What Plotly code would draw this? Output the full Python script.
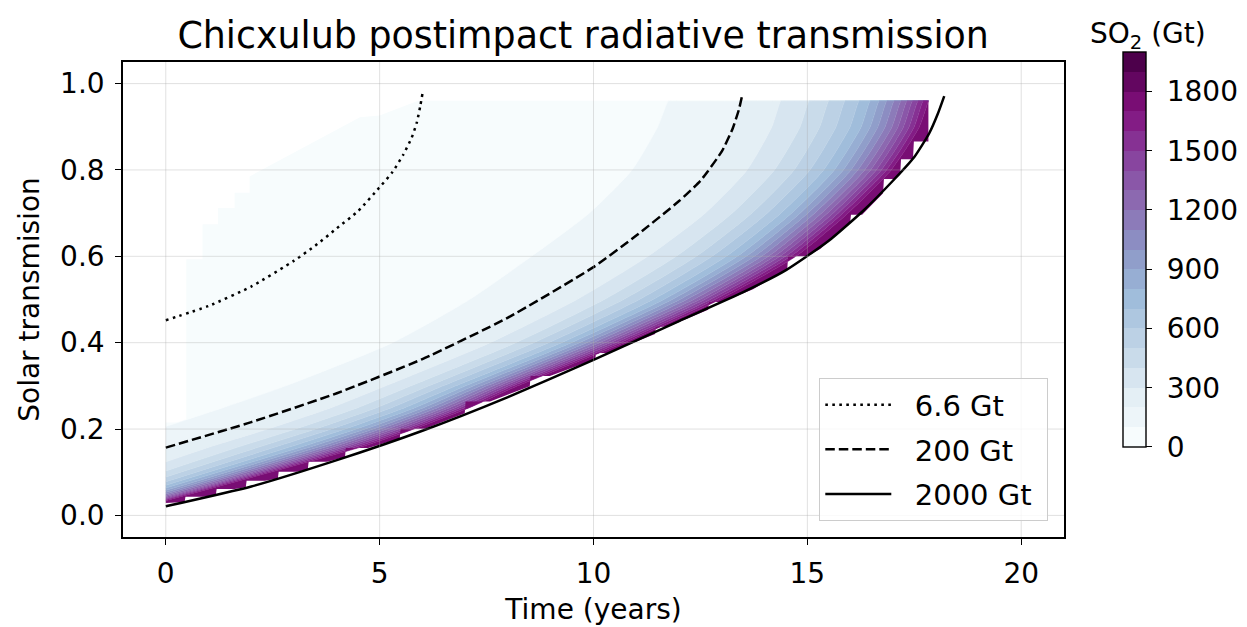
import plotly.graph_objects as go

# ---------------- data ----------------
TIME_TICKS = [0, 5, 10, 15, 20]
TRANS_TICKS = [0.0, 0.2, 0.4, 0.6, 0.8, 1.0]
CBAR_TICKS = [0, 300, 600, 900, 1200, 1500, 1800]
CBAR_MAX = 2000
BAND_STEP = 100

# labelled SO2 curves (time in years, solar transmission)
LINE_66_t = [0, 1, 2, 3, 3.5, 4, 4.5, 5, 5.3, 5.55, 5.75, 5.87, 5.95, 6.0]
LINE_66_T = [0.452, 0.485, 0.53, 0.59, 0.625, 0.665, 0.705, 0.76, 0.795, 0.835, 0.875, 0.91, 0.948, 0.976]
LINE_200_t = [0, 2, 4, 6, 8, 10, 11, 12, 12.5, 13, 13.25, 13.4, 13.47]
LINE_200_T = [0.157, 0.216, 0.283, 0.362, 0.458, 0.575, 0.648, 0.728, 0.775, 0.843, 0.895, 0.94, 0.97]
LINE_2000_t = [0, 2, 4, 6, 8, 10, 12, 13.5, 14.5, 15.5, 16.3, 17, 17.5, 17.85, 18.05, 18.2]
LINE_2000_T = [0.021, 0.067, 0.128, 0.196, 0.274, 0.36, 0.45, 0.517, 0.568, 0.636, 0.705, 0.775, 0.83, 0.885, 0.93, 0.971]
LINE_NAMES = ['6.6 Gt', '200 Gt', '2000 Gt']

# filled SO2 field: outer boundary of the gridded data
CAP_T = 0.96
RIGHT_t = 17.83
TOP_t = [0, 0.48, 0.48, 0.86, 0.86, 1.22, 1.22, 1.61, 1.61, 1.96, 1.96, 4.54, 5.0, 5.9, 17.83]
TOP_T = [0.215, 0.215, 0.593, 0.593, 0.674, 0.674, 0.712, 0.712, 0.747, 0.747, 0.785, 0.922, 0.926, 0.96, 0.96]
EDGE_t = [0, 0.44, 0.46, 0.87, 1.17, 1.19, 1.61, 1.87, 1.89, 2.32, 2.62, 2.64, 3.06, 3.32, 3.34, 3.77,
          4.19, 4.21, 4.73, 5.47, 5.49, 6.06, 6.99, 7.01, 7.58, 8.51, 8.53, 8.98, 10.04, 10.06, 10.34,
          11.44, 11.46, 11.74, 12.68, 12.70, 13.01, 13.73, 14.53, 14.55, 14.99, 15.3, 16.0, 16.02, 16.28,
          16.77, 16.79, 17.05, 17.17, 17.19, 17.45, 17.47, 17.49, 17.83, 17.83]
EDGE_T = [0.029, 0.031, 0.0435, 0.0435, 0.047, 0.061, 0.061, 0.065, 0.080, 0.080, 0.0855, 0.101, 0.101,
          0.1066, 0.1245, 0.1245, 0.1354, 0.156, 0.156, 0.178, 0.2006, 0.2006, 0.2363, 0.264, 0.264,
          0.2991, 0.323, 0.323, 0.3616, 0.376, 0.376, 0.4202, 0.437, 0.437, 0.4763, 0.494, 0.494, 0.524,
          0.5704, 0.60, 0.60, 0.617, 0.6787, 0.696, 0.696, 0.7463, 0.779, 0.779, 0.7895, 0.825, 0.825,
          0.827, 0.866, 0.866, 0.96]

# contour levels of the filled field (Gt): transmission at t=0 and
# time (years) at which each level reaches the transmissions in LEVEL_T_GRID
LEVEL_T_GRID = [0.16, 0.2, 0.25, 0.3, 0.4, 0.5, 0.6, 0.7, 0.8, 0.9, 0.96]
LEVELS = [100, 200, 300, 400, 500, 600, 700, 800, 900, 1000, 1100, 1200, 1300, 1400, 1500, 1600, 1700]
LEVEL_T0 = [0.206, 0.157, 0.124, 0.103, 0.089, 0.078, 0.070, 0.0635, 0.058, 0.0535, 0.0495, 0.046,
            0.043, 0.0405, 0.038, 0.036, 0.034]
LEVEL_TIMES = [
    [None, None, 1.35, 2.8, 5.3, 7.1, 8.55, 9.9, 10.9, 11.5, 11.75],
    [0.1, 1.46, 3.0, 4.43, 6.79, 8.72, 10.34, 11.65, 12.68, 13.27, 13.44],
    [1.07, 2.38, 3.88, 5.14, 7.58, 9.61, 11.27, 12.61, 13.59, 14.17, 14.38],
    [1.74, 3.03, 4.50, 5.73, 8.18, 10.25, 11.93, 13.24, 14.23, 14.83, 15.04],
    [2.23, 3.50, 4.94, 6.15, 8.60, 10.70, 12.40, 13.70, 14.69, 15.29, 15.50],
    [2.61, 3.87, 5.29, 6.48, 8.95, 11.07, 12.77, 14.06, 15.06, 15.67, 15.88],
    [2.95, 4.19, 5.60, 6.78, 9.25, 11.39, 13.10, 14.38, 15.38, 16.00, 16.21],
    [3.22, 4.45, 5.84, 7.01, 9.48, 11.64, 13.36, 14.63, 15.63, 16.26, 16.47],
    [3.43, 4.66, 6.04, 7.20, 9.67, 11.84, 13.57, 14.83, 15.84, 16.47, 16.68],
    [3.63, 4.85, 6.21, 7.37, 9.84, 12.02, 13.76, 15.01, 16.02, 16.65, 16.86],
    [3.80, 5.01, 6.37, 7.51, 9.99, 12.18, 13.93, 15.17, 16.18, 16.82, 17.03],
    [3.96, 5.17, 6.52, 7.66, 10.14, 12.34, 14.09, 15.33, 16.34, 16.98, 17.19],
    [4.11, 5.31, 6.65, 7.79, 10.27, 12.48, 14.23, 15.47, 16.48, 17.12, 17.33],
    [4.24, 5.44, 6.78, 7.90, 10.39, 12.60, 14.36, 15.60, 16.61, 17.25, 17.46],
    [4.37, 5.57, 6.89, 8.02, 10.51, 12.73, 14.49, 15.72, 16.73, 17.38, 17.59],
    [4.50, 5.68, 7.00, 8.12, 10.62, 12.84, 14.61, 15.83, 16.85, 17.50, 17.71],
    [4.62, 5.80, 7.11, 8.23, 10.72, 12.95, 14.73, 15.95, 16.96, 17.62, 17.83],
]

# ---------------- styling ----------------
BUPU = ['#f7fcfd', '#e0ecf4', '#bfd3e6', '#9ebcda', '#8c96c6', '#8c6bb1', '#88419d', '#810f7c', '#4d004b']
FONT = 'DejaVu Sans'
W, H = 1239, 619          # page body has an 8 px margin
ML, MT, MR, MB = 115, 54, 183, 90
NBSP = '\u00a0'


def hex2rgb(h):
    return tuple(int(h[i:i + 2], 16) for i in (1, 3, 5))


def bupu(v):
    pos = max(0.0, min(1.0, v)) * (len(BUPU) - 1)
    i = min(int(pos), len(BUPU) - 2)
    f = pos - i
    a, b = hex2rgb(BUPU[i]), hex2rgb(BUPU[i + 1])
    return 'rgb(%d,%d,%d)' % tuple(round(a[k] + (b[k] - a[k]) * f) for k in range(3))


n_bands = CBAR_MAX // BAND_STEP
band_colors = [bupu(i / (n_bands - 1)) for i in range(n_bands)]

fig = go.Figure()

# filled bands, chained with tonexty
fig.add_trace(go.Scatter(x=TOP_t, y=TOP_T, mode='lines', line=dict(width=0),
                         showlegend=False, hoverinfo='skip'))
for k, (lev, t0, times) in enumerate(zip(LEVELS, LEVEL_T0, LEVEL_TIMES)):
    xs = [0.0]
    ys = [t0]
    for tt, TT in zip(times, LEVEL_T_GRID):
        if tt is None:
            continue
        xs.append(min(tt, RIGHT_t))
        ys.append(TT)
    if xs[-1] < RIGHT_t - 0.1:
        xs.append(xs[-1] + 0.05)
        ys.append(CAP_T)
    xs.append(RIGHT_t)
    ys.append(CAP_T)
    fig.add_trace(go.Scatter(x=xs, y=ys, mode='lines', fill='tonexty',
                             fillcolor=band_colors[k],
                             line=dict(width=0.6, color=band_colors[k], shape='spline', smoothing=0.6),
                             showlegend=False, hoverinfo='skip'))
fig.add_trace(go.Scatter(x=EDGE_t, y=EDGE_T, mode='lines', fill='tonexty',
                         fillcolor=band_colors[len(LEVELS)],
                         line=dict(width=0), showlegend=False, hoverinfo='skip'))

# labelled curves
LW = 2.5
legend_names = [NBSP * 2 + n + NBSP for n in LINE_NAMES]
fig.add_trace(go.Scatter(x=LINE_66_t, y=LINE_66_T, mode='lines', name=legend_names[0], legendgroup='a',
                         line=dict(color='black', width=LW, dash='2.6px,4.4px', shape='spline', smoothing=0.5)))
fig.add_trace(go.Scatter(x=LINE_200_t, y=LINE_200_T, mode='lines', name=legend_names[1], legendgroup='b',
                         line=dict(color='black', width=LW, dash='9.5px,4px', shape='spline', smoothing=0.5)))
fig.add_trace(go.Scatter(x=LINE_2000_t, y=LINE_2000_T, mode='lines', name=legend_names[2], legendgroup='c',
                         line=dict(color='black', width=LW, shape='spline', smoothing=0.5)))

# colour bar (stepped)
cscale = []
for i, c in enumerate(band_colors):
    cscale.append([i / n_bands, c])
    cscale.append([(i + 1) / n_bands, c])
fig.add_trace(go.Scatter(x=[None], y=[None], mode='markers', showlegend=False, hoverinfo='skip',
                         marker=dict(color=[0], colorscale=cscale, cmin=0, cmax=CBAR_MAX, showscale=True,
                                     colorbar=dict(thickness=23, thicknessmode='pixels', len=395,
                                                   lenmode='pixels', x=1.0627, xanchor='left',
                                                   y=0.6053, yanchor='middle', outlinecolor='black',
                                                   outlinewidth=1.4, ticks='outside', ticklen=6,
                                                   tickwidth=1.3, tickcolor='black', tickvals=CBAR_TICKS,
                                                   ticktext=[NBSP + str(v) for v in CBAR_TICKS],
                                                   tickfont=dict(size=28, family=FONT, color='black'),
                                                   xpad=0, ypad=0))))

# grid lines drawn over the filled field
shapes = []
for t in TIME_TICKS:
    shapes.append(dict(type='line', xref='x', yref='paper', x0=t, x1=t, y0=0, y1=1, layer='above',
                       line=dict(color='rgba(170,170,170,0.35)', width=1)))
for T in TRANS_TICKS:
    shapes.append(dict(type='line', xref='paper', yref='y', x0=0, x1=1, y0=T, y1=T, layer='above',
                       line=dict(color='rgba(170,170,170,0.35)', width=1)))

axis_common = dict(showgrid=False, zeroline=False, showline=True, linecolor='black', linewidth=1.6,
                   mirror=True, ticks='outside', ticklen=6, tickwidth=1.3, tickcolor='black',
                   automargin=False, ticklabelstandoff=5,
                   tickfont=dict(size=28, family=FONT, color='black'))

fig.update_layout(
    width=W, height=H,
    margin=dict(l=ML, r=MR, t=MT, b=MB, autoexpand=False),
    paper_bgcolor='white', plot_bgcolor='white',
    font=dict(family=FONT, color='black'),
    title=dict(text='Chicxulub postimpact radiative transmission', x=0.489, xanchor='center',
               xref='paper', y=1 - 27 / H, yanchor='middle', yref='container',
               font=dict(size=36.4, family=FONT, color='black')),
    xaxis=dict(range=[-1, 21], tickvals=TIME_TICKS,
               title=dict(text='Time (years)', font=dict(size=28, family=FONT), standoff=10), **axis_common),
    yaxis=dict(range=[-0.05, 1.05], tickvals=TRANS_TICKS, tickformat='.1f',
               title=dict(text='Solar transmision', font=dict(size=28, family=FONT), standoff=12), **axis_common),
    legend=dict(x=(819 - 123) / 941, y=1 - (378 - 62) / 475, xanchor='left', yanchor='top',
                bgcolor='rgba(255,255,255,0.8)', bordercolor='#cccccc', borderwidth=1.3,
                font=dict(size=29, family=FONT, color='black'), tracegroupgap=4, itemwidth=66),
    shapes=shapes,
    annotations=[dict(text='SO<sub>2</sub> (Gt)', xref='paper', yref='paper', x=(1148 - 123) / 941,
                      y=1 + 27 / 475, xanchor='center', yanchor='middle', showarrow=False,
                      font=dict(size=28, family=FONT, color='black'))],
)

fig.write_html('out.html')
